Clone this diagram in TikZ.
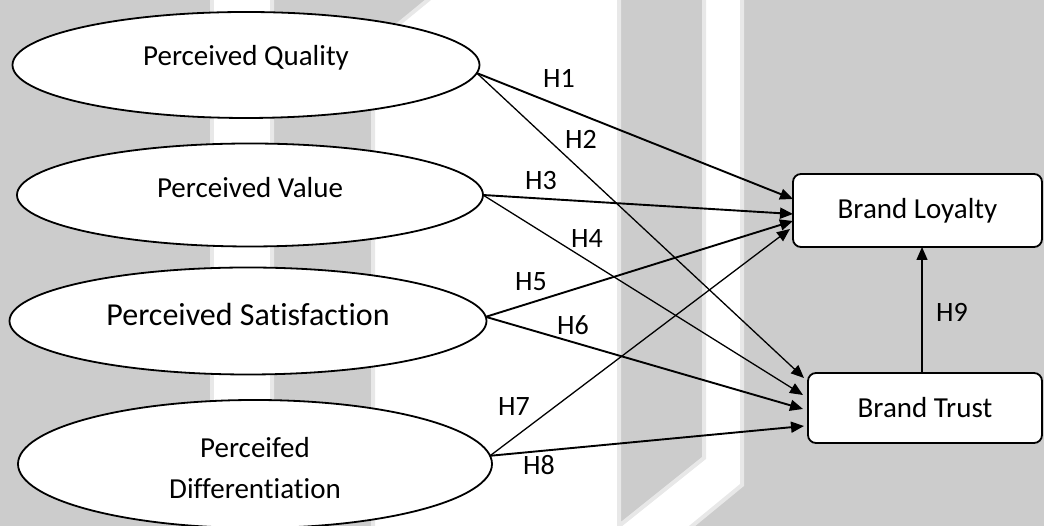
\documentclass[tikz,border=0pt]{standalone}
\usepackage{fontspec}
\setmainfont{Carlito}[Ligatures=NoCommon]
\usepackage{tikz}
\usetikzlibrary{arrows.meta,positioning,calc,shapes.geometric}

\begin{document}
\begin{tikzpicture}[x=1pt,y=1pt,
  band/.style={fill=black!20,draw=black!9,line width=4pt},
  factor/.style={ellipse,draw,line width=1.8pt,fill=white,inner sep=0pt,outer sep=0pt,align=center,font=\fontsize{29}{41}\selectfont},
  outcome/.style={rectangle,rounded corners=8pt,draw,line width=1.8pt,fill=white,inner sep=0pt,outer sep=0pt,font=\fontsize{29}{35}\selectfont},
  hyp/.style={inner sep=0pt,font=\fontsize{28}{34}\selectfont},
  arr/.style={-{Triangle[length=13pt,width=11pt]},line width=1.9pt},
  arrthin/.style={arr,line width=1.3pt}]
  \useasboundingbox (0,0) rectangle (1044,526);
  \filldraw[band] (-5,-5) rectangle (212,531); % 左端の灰色の帯
  \filldraw[band] (272,531) -- (434,531) -- (373,481) -- (373,-5) -- (272,-5) -- cycle; % 2本目の帯（上端が斜め）
  \filldraw[band] (619,531) -- (704,531) -- (704,68) -- (619,0) -- cycle; % 3本目の帯（下端が斜め）
  \filldraw[band] (742,531) -- (1049,531) -- (1049,-5) -- (686,-5) -- (742,41) -- cycle; % 右側の広い帯

  \node[factor,minimum width=467pt,minimum height=106pt,text height=12pt,text depth=10pt] (pq) at (246,461) {Perceived Quality}; % 知覚品質
  \node[factor,minimum width=466pt,minimum height=103pt,text height=13pt,text depth=7pt] (pv) at (250,331) {Perceived Value}; % 知覚価値
  \node[factor,minimum width=477pt,minimum height=107pt,text height=15pt,text depth=5pt,font=\fontsize{32}{38}\selectfont] (ps) at (248,205) {Perceived Satisfaction}; % 知覚満足
  \node[factor,minimum width=474pt,minimum height=128pt,text height=72pt,text depth=2pt] (pd) at (255,62) {Perceifed\\Differentiation}; % 知覚差別化
  \node[outcome,minimum width=249pt,minimum height=73pt] (bl) at (917.5,315.5) {Brand Loyalty}; % ブランドロイヤルティ
  \node[outcome,minimum width=234pt,minimum height=70pt] (bt) at (925,118) {Brand Trust}; % ブランド信頼

  \draw[arr] (pq.-2) -- ([yshift=11.5pt]bl.west); % H1
  \draw[arrthin] (pq.-2) -- ([shift={(-4pt,30pt)}]bt.west); % H2
  \draw[arr] (pv.east) -- ([yshift=-3.5pt]bl.west); % H3
  \draw[arrthin] (pv.east) -- ([shift={(-5pt,13pt)}]bt.west); % H4
  \draw[arr] (ps.1.5) -- ([yshift=-10.5pt]bl.west); % H5
  \draw[arr] (ps.1.5) -- ([shift={(-5pt,-1pt)}]bt.west); % H6
  \draw[arrthin] (pd.2.5) -- ([shift={(-3pt,-18.5pt)}]bl.west); % H7
  \draw[arr] (pd.2.5) -- ([shift={(-4pt,-18pt)}]bt.west); % H8
  \coordinate (h9foot) at ([xshift=-3pt]bt.north); % H9の根元
  \draw[arrthin] (h9foot) -- (h9foot |- bl.south); % H9

  \node[hyp] (h1) at (559,447) {H1}; % 仮説ラベル
  \node[hyp] (h2) at (581,387) {H2};
  \node[hyp] (h3) at (541,345) {H3};
  \node[hyp] (h4) at (587,287) {H4};
  \node[hyp] (h5) at (531,244) {H5};
  \node[hyp] (h6) at (573,201) {H6};
  \node[hyp] (h7) at (514,119) {H7};
  \node[hyp] (h8) at (539,61) {H8};
  \node[hyp] (h9) at (952,214) {H9};
\end{tikzpicture}
\end{document}
